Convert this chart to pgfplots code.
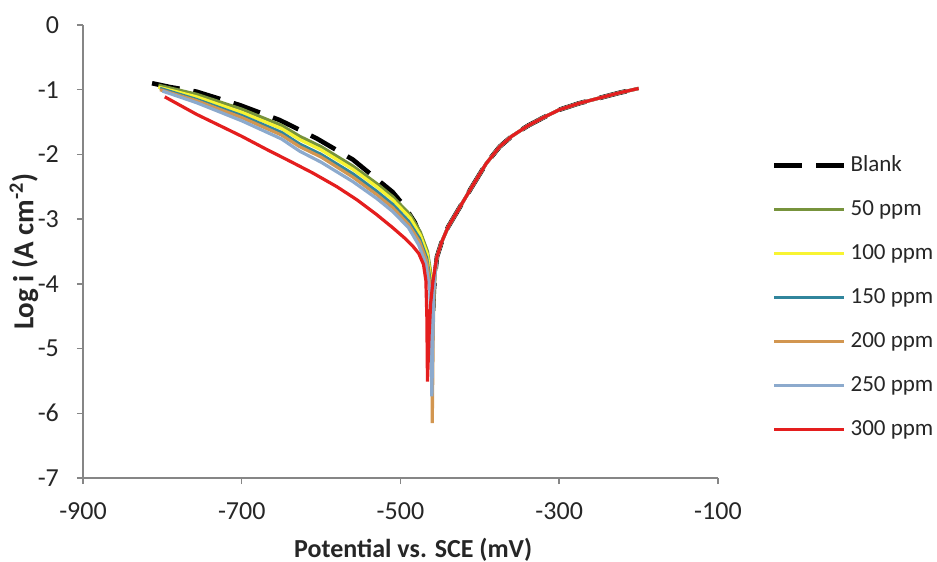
\documentclass[border=0pt]{standalone}
\usepackage{fontspec}
\setmainfont{Carlito}
\usepackage{pgfplots}
\pgfplotsset{compat=1.18}
\definecolor{c50}{RGB}{119,147,60}
\definecolor{c100}{RGB}{248,244,50}
\definecolor{c150}{RGB}{49,133,156}
\definecolor{c200}{RGB}{210,150,80}
\definecolor{c250}{RGB}{140,170,205}
\definecolor{c300}{RGB}{228,30,30}
\definecolor{axgrey}{RGB}{134,134,134}
\begin{document}
\begin{tikzpicture}
\useasboundingbox (-41.5pt,-42pt) rectangle (427pt,239pt);
\begin{axis}[at={(0,0)}, anchor=south west, scale only axis,
  width=317.5pt, height=226.5pt,
  xmin=-900, xmax=-100, ymin=-7, ymax=0,
  xtick={-900,-700,-500,-300,-100}, ytick={-7,-6,-5,-4,-3,-2,-1,0},
  axis x line=bottom, axis y line=left,
  axis line style={-, draw=axgrey, line width=0.75pt},
  tick align=outside, major tick length=3pt,
  tick style={draw=axgrey, line width=0.75pt},
  /pgf/number format/assume math mode=true,
  ticklabel style={font=\fontsize{13}{15}\selectfont, text=black!85},
  xticklabel style={yshift=-6pt},
  yticklabel style={xshift=-5.5pt},
  xlabel={Potential vs. SCE (mV)},
  ylabel={Log i (A cm\textsuperscript{-2})},
  xlabel style={font=\bfseries\fontsize{13}{15}\selectfont, text=black!85, at={(axis description cs:0.52,-0.159)}, anchor=center},
  ylabel style={font=\bfseries\fontsize{14.5}{16}\selectfont, text=black!85, at={(axis description cs:-0.093,0.5)}, anchor=center},
  legend style={at={(1.075,0.73)}, anchor=north west, draw=none, fill=none,
    font=\fontsize{11.5}{13}\selectfont, text=black!85, row sep=9pt,
    nodes={inner xsep=2pt}},
  legend cell align=left,
  legend image code/.code={\draw[#1] (0pt,0pt) -- (35pt,0pt);},
]
\addplot[black, line width=2.3pt, dash pattern=on 14pt off 7pt] coordinates {
(-813,-0.90) (-790,-0.96) (-757,-1.03) (-702,-1.24) (-652,-1.47) (-606,-1.75)
(-560,-2.08) (-530,-2.38) (-510,-2.58) (-495,-2.80) (-482,-3.05) (-472,-3.35)
(-465,-3.70) (-461,-4.20) (-459.5,-4.60) (-458,-4.10) (-456,-3.80) (-454,-3.58)
(-448,-3.35) (-440,-3.12) (-425,-2.81) (-410,-2.50) (-392,-2.14) (-375,-1.88)
(-360,-1.72) (-340,-1.56) (-320,-1.43) (-300,-1.31) (-275,-1.21) (-250,-1.13)
(-225,-1.05) (-200,-0.98)};
\addlegendentry{Blank}
\addplot[c50, line width=1.6pt] coordinates {
(-805,-0.93) (-757,-1.07) (-700,-1.30) (-650,-1.55) (-627,-1.72) (-600,-1.88)
(-560,-2.18) (-530,-2.45) (-510,-2.65) (-488,-2.93) (-475,-3.20) (-466,-3.50)
(-461,-3.90) (-459,-4.40) (-458,-4.10) (-456,-3.80) (-454,-3.58)
(-448,-3.35) (-440,-3.12) (-425,-2.81) (-410,-2.50) (-392,-2.14) (-375,-1.88)
(-360,-1.72) (-340,-1.56) (-320,-1.43) (-300,-1.31) (-275,-1.21) (-250,-1.13)
(-225,-1.05) (-200,-0.98)};
\addlegendentry{50 ppm}
\addplot[c100, line width=1.6pt] coordinates {
(-805,-0.96) (-757,-1.11) (-700,-1.35) (-650,-1.60) (-627,-1.77) (-600,-1.93)
(-560,-2.23) (-530,-2.50) (-510,-2.70) (-488,-2.98) (-475,-3.25) (-466,-3.55)
(-461,-4.00) (-459,-4.70) (-458,-4.10) (-456,-3.80) (-454,-3.58)
(-448,-3.35) (-440,-3.12) (-425,-2.81) (-410,-2.50) (-392,-2.14) (-375,-1.88)
(-360,-1.72) (-340,-1.56) (-320,-1.43) (-300,-1.31) (-275,-1.21) (-250,-1.13)
(-225,-1.05) (-200,-0.98)};
\addlegendentry{100 ppm}
\addplot[c150, line width=1.6pt] coordinates {
(-803,-0.98) (-757,-1.15) (-700,-1.40) (-650,-1.66) (-627,-1.84) (-600,-2.00)
(-560,-2.30) (-530,-2.57) (-510,-2.77) (-490,-3.03) (-476,-3.30) (-467,-3.60)
(-462,-4.00) (-460,-4.90) (-458.5,-4.10) (-456,-3.80) (-454,-3.58)
(-448,-3.35) (-440,-3.12) (-425,-2.81) (-410,-2.50) (-392,-2.14) (-375,-1.88)
(-360,-1.72) (-340,-1.56) (-320,-1.43) (-300,-1.31) (-275,-1.21) (-250,-1.13)
(-225,-1.05) (-200,-0.98)};
\addlegendentry{150 ppm}
\addplot[c200, line width=1.6pt] coordinates {
(-803,-1.00) (-757,-1.17) (-700,-1.43) (-650,-1.70) (-627,-1.88) (-600,-2.04)
(-560,-2.35) (-530,-2.62) (-510,-2.82) (-490,-3.08) (-476,-3.35) (-467,-3.65)
(-462,-4.10) (-460.5,-5.00) (-460,-6.15) (-459,-5.00) (-458,-4.10) (-456,-3.80) (-454,-3.58)
(-448,-3.35) (-440,-3.12) (-425,-2.81) (-410,-2.50) (-392,-2.14) (-375,-1.88)
(-360,-1.72) (-340,-1.56) (-320,-1.43) (-300,-1.31) (-275,-1.21) (-250,-1.13)
(-225,-1.05) (-200,-0.98)};
\addlegendentry{200 ppm}
\addplot[c250, line width=1.6pt] coordinates {
(-800,-1.02) (-757,-1.20) (-700,-1.48) (-650,-1.76) (-627,-1.95) (-600,-2.12)
(-560,-2.42) (-530,-2.68) (-510,-2.88) (-490,-3.13) (-477,-3.40) (-468,-3.70)
(-463,-4.10) (-461,-5.00) (-460.5,-5.74) (-459.5,-5.00) (-458,-4.10) (-456,-3.80) (-454,-3.58)
(-448,-3.35) (-440,-3.12) (-425,-2.81) (-410,-2.50) (-392,-2.14) (-375,-1.88)
(-360,-1.72) (-340,-1.56) (-320,-1.43) (-300,-1.31) (-275,-1.21) (-250,-1.13)
(-225,-1.05) (-200,-0.98)};
\addlegendentry{250 ppm}
\addplot[c300, line width=1.6pt] coordinates {
(-797,-1.11) (-757,-1.38) (-720,-1.60) (-700,-1.72) (-669,-1.92) (-640,-2.10)
(-610,-2.29) (-580,-2.50) (-555,-2.70) (-530,-2.93) (-510,-3.13) (-495,-3.29)
(-485,-3.41) (-477,-3.53) (-471,-3.70) (-468,-3.95) (-466.8,-4.50)
(-466,-5.51) (-464,-4.80) (-462,-4.30) (-459,-3.95) (-456,-3.72) (-454,-3.58)
(-448,-3.35) (-440,-3.12) (-425,-2.81) (-410,-2.50) (-392,-2.14) (-375,-1.88)
(-360,-1.72) (-340,-1.56) (-320,-1.43) (-300,-1.31) (-275,-1.21) (-250,-1.13)
(-225,-1.05) (-200,-0.98)};
\addlegendentry{300 ppm}
\end{axis}
\end{tikzpicture}
\end{document}
